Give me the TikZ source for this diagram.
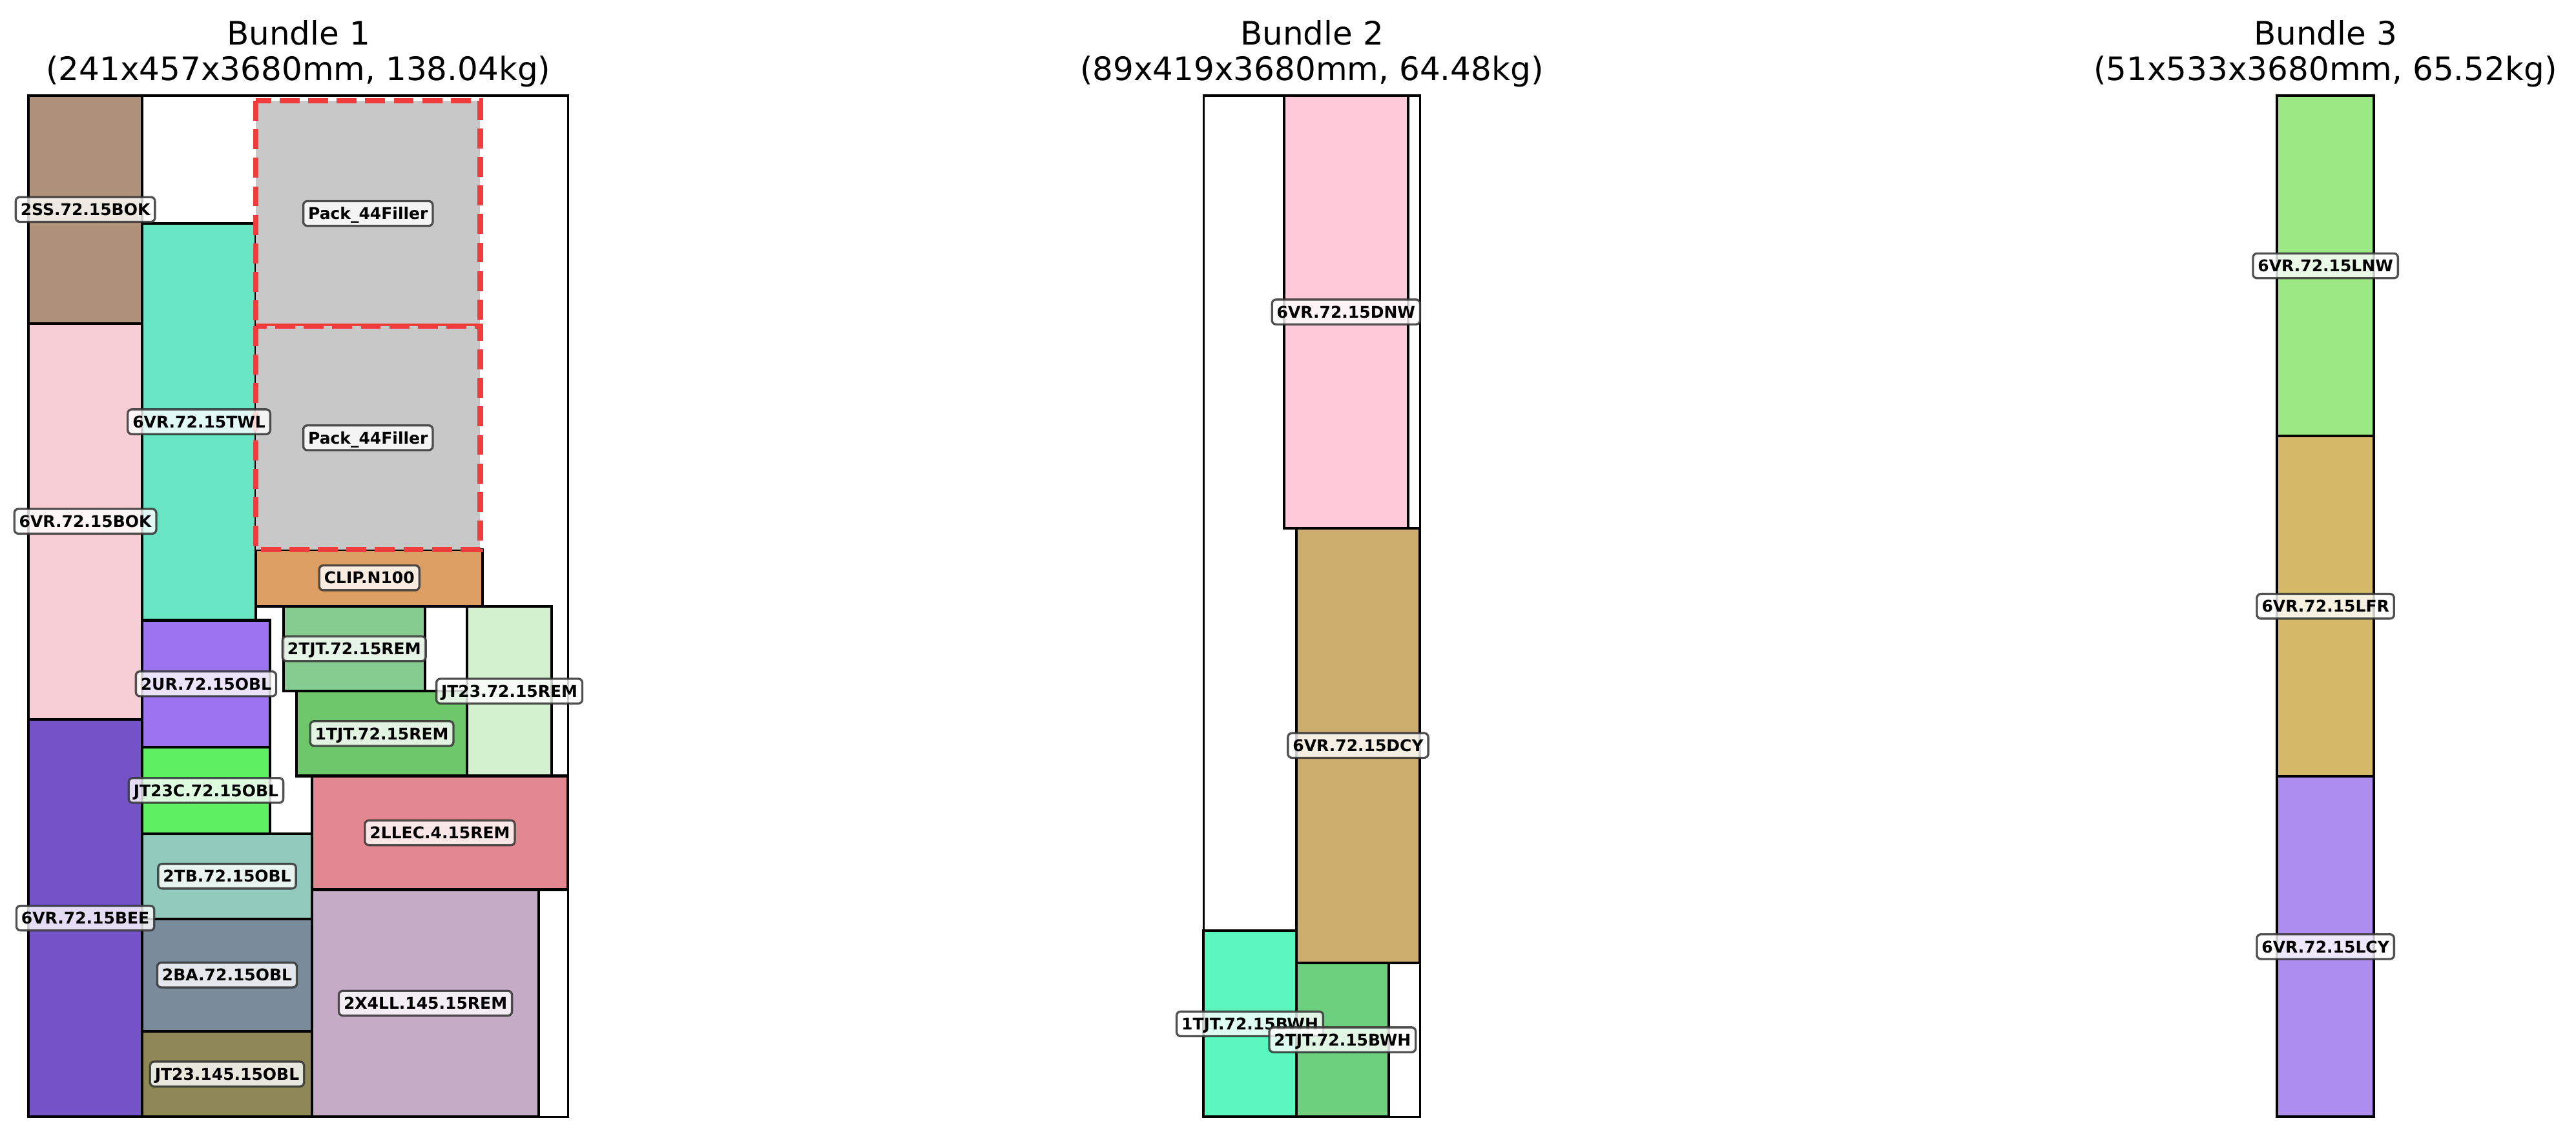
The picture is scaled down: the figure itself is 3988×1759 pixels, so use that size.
\documentclass[tikz,border=0pt]{standalone}
\usepackage{fontspec}
\setmainfont{DejaVu Sans}
\usetikzlibrary{calc}
\definecolor{cSSBOK}{HTML}{B0927A}
\definecolor{cBOK}{HTML}{F7CED6}
\definecolor{cBEE}{HTML}{7452C8}
\definecolor{cTWL}{HTML}{68E6C3}
\definecolor{cFill}{HTML}{C8C8C8}
\definecolor{cRed}{HTML}{F03C3C}
\definecolor{cCLIP}{HTML}{DC9E62}
\definecolor{cTJTtwo}{HTML}{86CB90}
\definecolor{cJTREM}{HTML}{D3F1CE}
\definecolor{cTJTone}{HTML}{6EC76A}
\definecolor{cUR}{HTML}{9C74F0}
\definecolor{cJTC}{HTML}{5EF060}
\definecolor{cLLEC}{HTML}{E38890}
\definecolor{cTB}{HTML}{92CBBD}
\definecolor{cBA}{HTML}{7A8B9B}
\definecolor{cJTOBL}{HTML}{8E8856}
\definecolor{cXLL}{HTML}{C4ABC6}
\definecolor{cDNW}{HTML}{FECAD9}
\definecolor{cDCY}{HTML}{CDAE6E}
\definecolor{cBWHone}{HTML}{5AF8BE}
\definecolor{cBWHtwo}{HTML}{6CD07E}
\definecolor{cLNW}{HTML}{9CE884}
\definecolor{cLFR}{HTML}{D6BA6A}
\definecolor{cLCY}{HTML}{AD8EF0}
\newcommand\pkrect[6]{%
  \draw[pk, fill=#5] (#1,#2) rectangle (#3,#4);
  \coordinate (#6) at ($(#1,#2)!0.5!(#3,#4)$);}
\newcommand\fillrect[5]{%
  \fill[cFill] (#1,#2) rectangle (#3,#4);
  \draw[fillerline] (#1,#2) rectangle (#3,#4);
  \coordinate (#5) at ($(#1,#2)!0.5!(#3,#4)$);}
\begin{document}
\begin{tikzpicture}[x=0.24pt,y=-0.24pt,
  pk/.style={draw=black, line width=1pt},
  frame/.style={draw=black, line width=0.8pt},
  fillerline/.style={draw=cRed, line width=2pt, dash pattern=on 7.4pt off 3.2pt},
  lbl/.style={draw=black!80, line width=0.8pt, fill=white, fill opacity=0.8, draw opacity=0.85, text opacity=1,
    rounded corners=1.5pt, font=\bfseries\fontsize{6}{7}\selectfont,
    inner xsep=1.8pt, inner ysep=2.4pt, text height=4.4pt, text depth=0pt},
  ttl/.style={font=\fontsize{12}{14}\selectfont, inner sep=0pt, anchor=base}]
\useasboundingbox (0,0) rectangle (3988,1759);
\fill[white] (0,0) rectangle (3988,1759);
% titles
\node[ttl] (t1a) at (462,70) {Bundle 1};
\node[ttl] (t1b) at (462,124.6) {(241x457x3680mm, 138.04kg)};
\node[ttl] (t2a) at (2031,70) {Bundle 2};
\node[ttl] (t2b) at (2031,124.6) {(89x419x3680mm, 64.48kg)};
\node[ttl] (t3a) at (3600,70) {Bundle 3};
\node[ttl] (t3b) at (3600,124.6) {(51x533x3680mm, 65.52kg)};
% bundle 1
\pkrect{44.2}{148.1}{220}{500.6}{cSSBOK}{b1}
\pkrect{44.2}{500.6}{220}{1113.8}{cBOK}{b2}
\pkrect{44.2}{1113.8}{220}{1729.4}{cBEE}{b3}
\pkrect{220}{345.6}{396.1}{960.5}{cTWL}{b4}
\pkrect{396.1}{850.7}{747.4}{938.8}{cCLIP}{b5}
\pkrect{438.6}{938.8}{657.9}{1070.3}{cTJTtwo}{b6}
\pkrect{723}{938.8}{854.2}{1201.5}{cJTREM}{b7}
\pkrect{459.2}{1070.3}{723}{1201.5}{cTJTone}{b8}
\pkrect{220}{960.5}{417.9}{1157.2}{cUR}{b9}
\pkrect{220}{1157.2}{417.9}{1290.6}{cJTC}{b10}
\pkrect{483}{1201.5}{879}{1377.5}{cLLEC}{b11}
\pkrect{220}{1290.6}{483}{1422.8}{cTB}{b12}
\pkrect{220}{1422.8}{483}{1596.7}{cBA}{b13}
\pkrect{220}{1596.7}{483}{1729.4}{cJTOBL}{b14}
\pkrect{483}{1377.5}{834.1}{1729.4}{cXLL}{b15}
\fillrect{396.1}{156.1}{743.4}{505.1}{f1}
\fillrect{396.1}{505.1}{743.4}{850.7}{f2}
% bundle 2
\pkrect{1987.7}{148.1}{2180}{818}{cDNW}{c1}
\pkrect{2006.7}{818}{2198.3}{1490.6}{cDCY}{c2}
\pkrect{1863.3}{1441.3}{2006.7}{1729.4}{cBWHone}{c3}
\pkrect{2006.7}{1490.6}{2150}{1729.4}{cBWHtwo}{c4}
% bundle 3
\pkrect{3525.1}{148.1}{3675.2}{675.2}{cLNW}{d1}
\pkrect{3525.1}{675.2}{3675.2}{1202.3}{cLFR}{d2}
\pkrect{3525.1}{1202.3}{3675.2}{1729.4}{cLCY}{d3}
% frames
\draw[frame] (44.2,148.1) rectangle (879.4,1729.4);
\draw[frame] (1863.3,148.1) rectangle (2198.3,1729.4);
\draw[frame] (3525.1,148.1) rectangle (3675.2,1729.4);
% labels
\node[lbl] (lb1) at (b1) {2SS.72.15BOK};
\node[lbl] (lb2) at (b2) {6VR.72.15BOK};
\node[lbl] (lb3) at (b3) {6VR.72.15BEE};
\node[lbl] (lb4) at (b4) {6VR.72.15TWL};
\node[lbl] (lf1) at (f1) {Pack\_44Filler};
\node[lbl] (lf2) at (f2) {Pack\_44Filler};
\node[lbl] (lb5) at (b5) {CLIP.N100};
\node[lbl] (lb6) at (b6) {2TJT.72.15REM};
\node[lbl] (lb7) at (b7) {JT23.72.15REM};
\node[lbl] (lb8) at (b8) {1TJT.72.15REM};
\node[lbl] (lb9) at (b9) {2UR.72.15OBL};
\node[lbl] (lb10) at (b10) {JT23C.72.15OBL};
\node[lbl] (lb11) at (b11) {2LLEC.4.15REM};
\node[lbl] (lb12) at (b12) {2TB.72.15OBL};
\node[lbl] (lb13) at (b13) {2BA.72.15OBL};
\node[lbl] (lb14) at (b14) {JT23.145.15OBL};
\node[lbl] (lb15) at (b15) {2X4LL.145.15REM};
\node[lbl] (lc1) at (c1) {6VR.72.15DNW};
\node[lbl] (lc2) at (c2) {6VR.72.15DCY};
\node[lbl] (lc3) at (c3) {1TJT.72.15BWH};
\node[lbl] (lc4) at (c4) {2TJT.72.15BWH};
\node[lbl] (ld1) at (d1) {6VR.72.15LNW};
\node[lbl] (ld2) at (d2) {6VR.72.15LFR};
\node[lbl] (ld3) at (d3) {6VR.72.15LCY};
\end{tikzpicture}
\end{document}
